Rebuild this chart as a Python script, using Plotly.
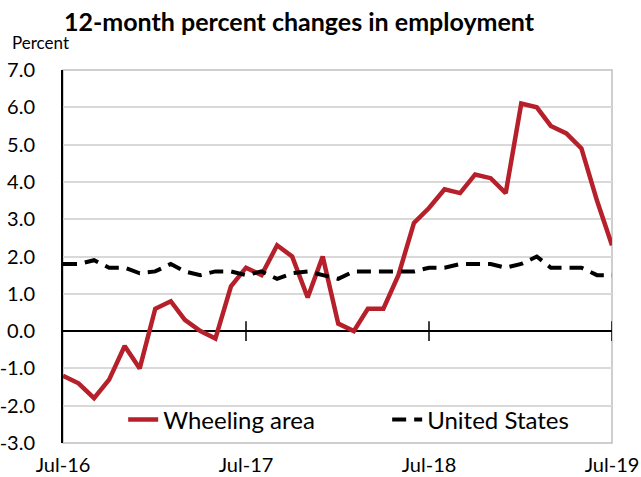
import plotly.graph_objects as go
import pandas as pd

months = pd.date_range("2016-07-01", "2019-07-01", freq="MS")
wheeling = [-1.2, -1.4, -1.8, -1.3, -0.4, -1.0, 0.6, 0.8, 0.3, 0.0, -0.2, 1.2,
            1.7, 1.5, 2.3, 2.0, 0.9, 2.0, 0.2, 0.0, 0.6, 0.6, 1.5, 2.9,
            3.3, 3.8, 3.7, 4.2, 4.1, 3.7, 6.1, 6.0, 5.5, 5.3, 4.9, 3.5, 2.3]
us = [1.8, 1.8, 1.9, 1.7, 1.7, 1.55, 1.6, 1.8, 1.6, 1.5, 1.6, 1.6,
      1.5, 1.6, 1.4, 1.55, 1.6, 1.5, 1.4, 1.6, 1.6, 1.6, 1.6, 1.6,
      1.7, 1.7, 1.8, 1.8, 1.8, 1.7, 1.8, 2.0, 1.7, 1.7, 1.7, 1.5, 1.5]
tick_dates = ["2016-07-01", "2017-07-01", "2018-07-01", "2019-07-01"]
tick_labels = ["Jul-16", "Jul-17", "Jul-18", "Jul-19"]
y_ticks = [7, 6, 5, 4, 3, 2, 1, 0, -1, -2, -3]

FONT = "Lato, 'Open Sans', sans-serif"

fig = go.Figure()
fig.add_trace(go.Scatter(x=months, y=wheeling, mode="lines", name="Wheeling area",
                         line=dict(color="#B5202A", width=4.5)))
fig.add_trace(go.Scatter(x=months, y=us, mode="lines", name="United States",
                         line=dict(color="black", width=4, dash="14px,8px")))
# tick marks on the zero axis
fig.add_trace(go.Scatter(x=tick_dates[1:], y=[0] * 3, mode="markers", showlegend=False,
                         hoverinfo="skip",
                         marker=dict(symbol="line-ns", size=14,
                                     line=dict(color="black", width=1.5))))

fig.update_layout(
    width=641, height=477,
    margin=dict(l=63, r=29, t=70, b=34, autoexpand=False),
    paper_bgcolor="white", plot_bgcolor="white",
    font=dict(family=FONT, color="black"),
    title=dict(text="<b>12-month percent changes in employment</b>",
               xref="container", yref="container",
               x=0.4665, xanchor="center", y=1 - 22 / 477, yanchor="middle",
               font=dict(size=25, family=FONT)),
    showlegend=True,
    legend=dict(orientation="h", x=0.1096, y=(443 - 420) / 373, xanchor="left",
                yanchor="middle",
                bgcolor="rgba(0,0,0,0)", font=dict(size=24, family=FONT),
                entrywidth=219, tracegroupgap=0),
    xaxis=dict(type="date", range=["2016-07-01", "2019-07-01"],
               tickvals=tick_dates, ticktext=tick_labels, automargin=False,
               tickfont=dict(size=20), showgrid=False, showline=False,
               ticks="", zeroline=False, ticklabelstandoff=8),
    yaxis=dict(range=[-3, 7], tickvals=y_ticks, automargin=False,
               ticktext=[f"{v:.1f}" for v in y_ticks],
               tickfont=dict(size=20), showgrid=True, gridcolor="#d9d9d9",
               gridwidth=1.5, zeroline=True, zerolinecolor="black",
               zerolinewidth=1.5, showline=True, linecolor="black", linewidth=2,
               ticks="", ticklabelstandoff=22),
    shapes=[dict(type="rect", xref="paper", yref="paper", x0=0, x1=1, y0=0, y1=1,
                 line=dict(color="#bfbfbf", width=1.5), layer="below")],
    annotations=[dict(text="Percent", xref="paper", yref="paper", x=(10 - 63) / 549,
                      y=(443 - 43) / 373,
                      xanchor="left", yanchor="middle", showarrow=False,
                      font=dict(size=17, family=FONT))],
)

fig.write_html("out.html", config={"displayModeBar": False},
               post_script="document.body.style.margin='0';document.body.style.padding='0';")
